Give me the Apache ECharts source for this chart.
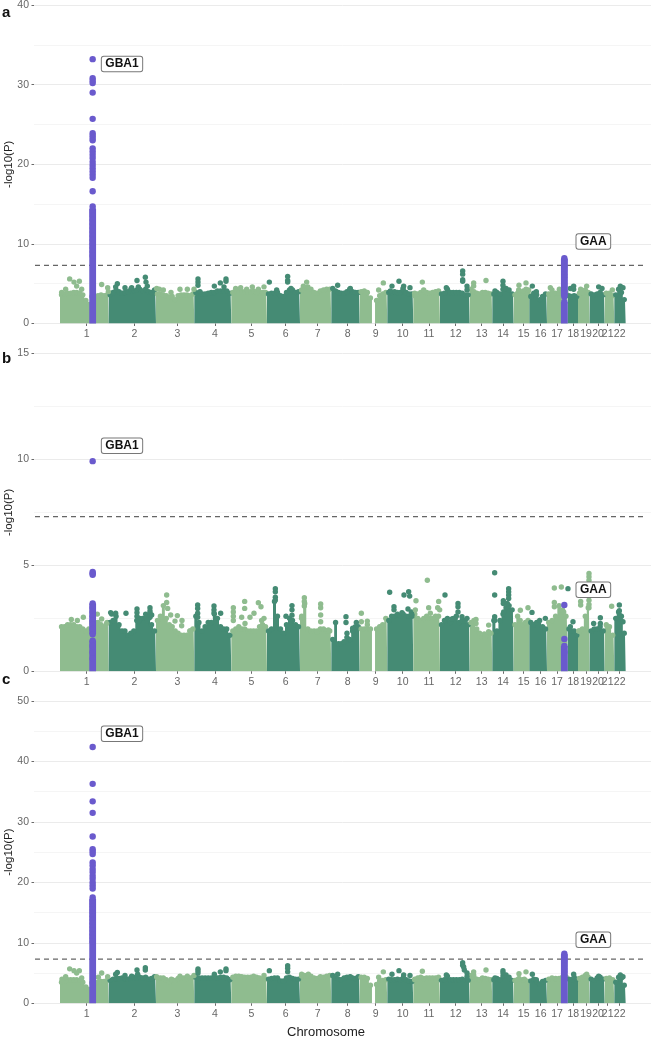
<!DOCTYPE html>
<html><head><meta charset="utf-8">
<style>html,body{margin:0;padding:0;background:#fff}#c{width:652px;height:1039px}</style>
<script src="https://cdn.jsdelivr.net/npm/echarts@6/dist/echarts.min.js"></script>
</head><body><div id="c"></div>
<script>
const chromLabels=['1','2','3','4','5','6','7','8','9','10','11','12','13','14','15','16','17','18','19','20','21','22'];
const chromTicks=[260,403,532,645,754,857,953,1043,1127,1208,1287,1367,1445,1509,1571,1622,1671,1720,1758,1794,1823,1859];
const chromEdges=[180,326,468,583,694,801,900,994,1079,1162,1240,1320,1409,1477,1541,1588,1641,1703,1734,1769,1814,1843,1877];
const threshold=7.3;
const gba1X=278, gaaX=1693;

const aTops=[
[3.6,3.7,3.8,3.8,3.9,3.9,3.8,3.6,2.9,2.4,3.4,3.4,3.5,3.6,3.5,3.6],
[3.6,3.9,4.2,4.0,3.8,3.9,4.0,4.3,4.1,4.2,4.3,4.1,4.3,4.0,3.9,4.2],
[3.7,3.7,3.6,3.5,3.3,3.4,3.0,3.5,3.6,3.6,3.6,3.5,3.7],
[3.9,3.8,3.7,3.7,3.8,3.9,3.9,4.1,4.1,4.1,4.1,3.8],
[3.9,4.1,4.1,4.0,4.0,4.0,4.0,4.1,3.9,3.9,3.9,3.9],
[3.7,3.8,3.8,3.9,3.5,3.4,3.9,4.2,4.2,3.9,4.0],
[4.2,4.5,4.6,4.3,3.9,3.8,4.1,4.2,4.3,4.3],
[4.4,4.1,3.9,3.8,3.8,4.0,4.3,4.0,3.9,3.9],
[4.0,4.1,3.9,3.2,0,2.9,3.5,3.7,3.9],
[3.9,3.9,4.0,3.9,3.9,4.2,3.9,3.7,3.7],
[3.5,3.7,3.9,4.0,3.9,3.8,3.9,4.0,4.1],
[3.7,3.8,4.3,3.9,3.9,3.9,3.9,3.8,3.6,3.6],
[4.3,4.0,3.8,3.7,3.9,3.9,3.8,3.7],
[3.7,3.9,3.7,4.3,4.4,4.2,3.7],
[3.6,3.8,3.8,3.8,3.9,3.8],
[3.4,3.8,3.6,3.0,3.4,3.7],
[3.7,3.7,3.8,3.8,3.9,3.9],
[3.5,3.4,3.5,3.4],
[3.8,3.9,4.2,3.9],
[3.7,3.6,3.7,3.9,3.6],
[3.8,3.8,3.5],
[3.6,4.3,3.9,3.0]];
const aPeaks=[[185,3.9],[197,4.3],[209,5.6],[222,5.2],[238,5.3],[230,4.7],[245,4.3],[305,4.9],[323,4.5],[325,4.0],
[352,5.0],[347,4.6],[375,4.5],[395,4.5],[411,5.4],[415,4.6],[436,5.8],[438,5.2],[442,4.7],[470,4.4],
[490,4.2],[513,3.9],[540,4.3],[562,4.3],[582,4.3],[478,4.3],
[594,5.6],[594,5.2],[594,4.8],[643,4.7],[661,5.1],[678,5.6],[678,5.3],[672,4.6],[600,4.0],
[707,4.4],[722,4.5],[740,4.3],[757,4.6],[775,4.3],[792,4.6],[808,5.2],
[863,5.9],[863,5.4],[863,5.2],[830,4.2],[873,4.4],[920,5.2],[910,4.7],
[1013,4.8],[1051,4.4],[1150,5.1],[1136,4.2],[1171,4.1],[1176,4.7],[1197,5.3],[1211,4.7],[1209,4.4],[1230,4.5],[1244,3.8],
[1267,5.2],[1271,4.2],[1388,6.6],[1388,6.2],[1388,5.5],[1388,5.3],[1401,4.7],[1401,4.2],[1339,4.5],
[1421,5.1],[1421,4.7],[1458,5.4],[1485,4.1],[1509,5.3],[1509,4.8],[1557,4.8],[1556,4.2],[1578,5.1],[1578,4.3],[1586,4.2],[1570,4.1],
[1597,4.7],[1609,4.0],[1651,4.5],[1656,4.2],[1678,4.3],[1711,4.4],[1721,4.7],[1721,4.3],[1742,4.3],[1760,4.7],[1796,4.6],[1806,4.4],[1837,4.2],[1861,4.7],[1869,4.5]];
const aGba1Dots=[33.2,30.8,30.5,30.2,29.0,25.7,23.9,23.6,23.3,23.0,22.0,21.6,21.2,20.8,20.3,19.9,19.5,19.1,18.7,18.3,16.6,14.7,14.3,13.9,13.5,13.0,12.5,12.0,11.5,11.0,10.5,10.0,9.5,9.0,8.5];
const aGba1Solid=[[0,14.4]];
const aGaaDots=[8.2,8.0,7.8,7.5,7.2,6.9,6.6,6.2,5.8,5.4,5.0,4.6,4.2,3.8,3.4,2.7];
const aGaaSolid=[[0,2.7],[3.4,8.1]];

const bTops=[
[2.1,2.1,2.2,2.2,2.2,2.1,2.1,2.0,1.9,2.0,2.3,2.3,2.3,2.2,2.1,2.3],
[2.3,2.4,2.6,2.2,1.9,1.9,1.7,1.8,1.9,2.4,2.5,2.5,2.7,2.5,2.2,1.9],
[2.4,2.6,3.1,2.5,2.2,2.1,1.9,1.8,1.7,1.7,1.7,1.9,2.0],
[2.6,2.3,1.9,2.1,2.3,2.3,2.7,2.5,2.1,2.0,2.0,1.7],
[1.9,2.0,2.1,2.0,2.0,1.9,1.9,1.9,1.9,2.1,2.2,2.1],
[1.9,2.0,3.3,2.6,2.0,1.8,2.2,2.5,2.4,2.2,2.1],
[2.5,3.2,2.0,1.9,1.9,1.9,2.0,2.0,1.9,1.9],
[1.5,2.3,1.3,1.3,1.4,1.6,1.5,1.9,2.1,2.1],
[2.0,2.0,2.0,2.0,0,2.0,2.1,2.2,2.5],
[2.4,2.6,2.6,2.7,2.6,2.7,2.6,2.6,2.6],
[2.7,2.5,2.4,2.5,2.6,2.5,2.5,2.6,2.6],
[2.2,2.4,2.5,2.3,2.5,2.6,2.3,2.4,2.4,2.2],
[2.3,2.4,2.0,1.8,1.6,1.6,1.7,1.8],
[2.4,1.9,2.4,2.7,3.0,3.1,2.9],
[2.2,2.6,2.4,2.2,2.3,2.4],
[2.3,2.2,2.3,2.4,2.1,2.0],
[2.3,2.4,2.6,3.1,2.9,2.6],
[2.0,1.9,1.9,1.7],
[1.9,2.0,2.6,3.0],
[1.9,2.0,2.0,2.1,1.9],
[2.2,2.1,1.7],
[2.5,2.8,2.6,1.8]];
const bPeaks=[[214,2.45],[232,2.4],[250,2.55],[292,2.7],[305,2.47],[332,2.77],[320,2.26],
[335,2.7],[347,2.74],[378,2.74],[411,2.94],[411,2.77],[411,2.6],[450,3.0],[450,2.85],[450,2.74],[450,2.55],[438,2.55],[455,2.66],[418,2.4],[442,2.4],
[500,3.6],[500,3.25],[503,2.97],[512,2.66],[532,2.63],[546,2.4],[545,2.15],[570,1.9],[485,2.55],[525,2.37],
[593,3.13],[593,2.97],[593,2.74],[593,2.55],[642,3.08],[642,2.9],[642,2.75],[662,2.74],[700,3.0],[700,2.8],[700,2.6],[700,2.4],
[734,3.3],[734,2.97],[775,3.24],[783,3.05],[762,2.74],[750,2.55],[725,2.55],[792,2.5],[735,2.26],[785,2.4],
[826,3.9],[826,3.75],[826,3.5],[826,3.36],[876,3.1],[876,2.9],[858,2.6],[876,2.65],
[913,3.47],[913,3.3],[913,3.08],[905,2.6],[962,3.18],[962,3.0],[962,2.66],[962,2.34],[950,1.87],[985,1.95],
[1038,2.58],[1038,2.3],[1084,2.74],[1084,2.34],[1069,2.3],[1058,2.03],[1041,1.8],[1102,2.37],[1102,2.2],
[1169,3.73],[1212,3.6],[1226,3.76],[1229,3.55],[1182,3.05],[1182,2.9],[1224,2.94],[1206,2.77],[1234,2.8],[1246,2.9],[1236,2.66],
[1282,4.3],[1248,3.33],[1286,3.0],[1316,3.3],[1313,3.0],[1319,2.9],[1291,2.74],[1335,3.6],
[1374,3.2],[1374,3.05],[1374,2.8],[1356,2.47],[1401,2.5],[1386,2.58],
[1428,2.45],[1428,2.26],[1466,2.18],[1466,1.87],[1453,1.76],
[1484,4.65],[1484,3.6],[1510,3.33],[1510,3.2],[1526,3.9],[1526,3.75],[1526,3.6],[1526,3.44],[1522,3.2],[1511,2.8],[1484,2.58],[1484,2.4],
[1561,2.88],[1584,3.0],[1596,2.78],[1636,2.5],
[1663,3.93],[1684,3.98],[1663,3.25],[1663,3.05],[1691,2.8],
[1711,2.1],[1719,2.34],[1736,1.9],
[1767,4.62],[1767,4.46],[1767,4.3],[1767,4.05],[1767,3.8],[1767,3.55],[1767,3.35],[1767,3.15],[1767,3.0],[1742,3.3],[1742,3.13],[1704,3.9],
[1801,2.53],[1781,2.26],[1801,2.26],[1835,3.07],[1858,3.13],[1858,2.86],[1858,2.66],[1869,2.34]];
const bGba1Dots=[9.92,4.69,4.62,4.56,3.2,3.0,2.8,2.6,2.4,2.2,2.0,1.75,1.45,1.2,0.9,0.6];
const bGba1Solid=[[0,1.45],[1.75,3.2]];
const bGaaDots=[3.13,1.53,1.2,0.9];
const bGaaSolid=[[0,1.2]];

const cTops=[
[3.5,3.7,3.9,3.9,3.9,3.9,3.8,3.5,2.7,2.3,3.4,3.4,3.5,3.6,3.6,3.8],
[3.8,4.0,4.1,4.1,4.2,4.1,4.0,4.2,4.3,4.2,4.3,4.2,4.3,4.0,4.1,4.4],
[4.2,4.2,4.0,3.9,3.5,3.9,3.8,4.1,4.2,4.2,4.1,4.2,4.3],
[4.3,4.2,4.2,4.2,4.2,4.2,4.3,4.2,4.3,4.3,4.2,3.9],
[4.3,4.5,4.5,4.4,4.3,4.3,4.3,4.5,4.3,4.2,4.0,4.0],
[4.0,4.1,4.2,4.2,3.7,3.7,4.2,4.3,4.1,4.0,4.0],
[4.5,4.6,4.6,4.5,4.2,4.1,4.4,4.3,4.5,4.6],
[4.6,4.2,4.0,3.9,4.2,4.3,4.3,4.2,4.1,4.4],
[4.3,4.3,4.1,3.0,0,3.1,3.7,3.8,3.9],
[4.0,3.9,3.9,4.0,3.9,4.2,3.9,3.7,3.6],
[4.0,4.2,4.3,4.1,4.2,4.2,4.2,4.2,4.3],
[3.8,3.9,4.5,3.9,3.9,3.9,3.9,4.0,3.8,3.8],
[4.6,4.3,4.0,3.9,4.2,4.1,4.0,3.9],
[3.9,4.1,3.9,4.5,4.7,4.3,3.8],
[3.8,3.9,3.8,3.9,3.8,3.6],
[3.7,4.0,3.6,3.2,3.6,3.8],
[4.0,4.0,4.1,4.1,4.3,4.4],
[4.0,3.9,4.3,4.0],
[4.1,4.3,4.6,4.3],
[4.0,3.8,4.2,4.3,4.0],
[4.1,4.2,3.9],
[3.5,4.3,4.2,3.0]];
const cPeaks=[[186,4.0],[197,4.4],[209,5.7],[222,5.4],[238,5.4],[230,5.0],[245,4.2],[305,5.0],[323,4.4],[295,4.3],
[352,5.1],[347,4.8],[375,4.6],[395,4.5],[411,5.5],[413,4.8],[436,5.9],[436,5.5],[470,4.4],
[490,4.2],[514,4.0],[540,4.5],[562,4.5],[582,4.6],
[594,5.7],[594,5.4],[594,5.0],[643,4.8],[661,5.2],[678,5.7],[678,5.4],[792,4.6],[808,5.4],
[863,6.2],[863,5.8],[863,5.2],[925,4.8],[905,4.8],
[1013,4.8],[1051,4.4],[1150,5.2],[1136,4.3],[1176,4.8],[1197,5.4],[1211,4.7],[1230,4.6],[1244,3.9],[1267,5.3],
[1388,6.7],[1388,6.3],[1391,6.0],[1393,5.5],[1401,5.0],[1401,4.4],[1339,4.7],[1421,5.2],[1421,4.7],[1458,5.5],
[1485,4.2],[1509,5.4],[1509,5.0],[1557,4.9],[1578,5.2],[1557,4.1],[1573,4.0],[1597,4.8],[1609,3.9],[1656,4.2],
[1721,4.8],[1760,4.8],[1796,4.5],[1861,4.7],[1869,4.4]];
const cGba1Dots=[42.4,36.3,33.4,31.5,27.6,25.5,25.1,24.7,23.3,22.8,22.2,21.7,21.1,20.6,20.0,19.5,19.0,17.5,17.0,16.5,16.0,15.5,15.0,14.4,13.8,13.2,12.6,12.0,11.4,10.8,10.2];
const cGba1Solid=[[0,17.3]];
const cGaaDots=[8.2,7.9,7.5,7.1,6.7,6.2,5.7,5.2];
const cGaaSolid=[[0,8.1]];

const LIGHT='#8FBC8F',DARK='#458B74',PURPLE='#6A5ACD',FONT='"Liberation Sans",Arial,sans-serif';
const chromColor=x=>{let i=0;while(i<21&&x>=chromEdges[i+1])i++;return i%2?DARK:LIGHT;};

const panels=[
 {top:5,height:318.5,max:40,interval:10,tops:aTops,peaks:aPeaks,gd:aGba1Dots,gs:aGba1Solid,ad:aGaaDots,as:aGaaSolid,lab:[[366,32.6,'GBA1'],[1780,10.3,'GAA']]},
 {top:353.5,height:317.8,max:15,interval:5,tops:bTops,peaks:bPeaks,gd:bGba1Dots,gs:bGba1Solid,ad:bGaaDots,as:bGaaSolid,lab:[[366,10.64,'GBA1'],[1780,3.85,'GAA']]},
 {top:701,height:302.3,max:50,interval:10,tops:cTops,peaks:cPeaks,gd:cGba1Dots,gs:cGba1Solid,ad:cGaaDots,as:cGaaSolid,lab:[[366,44.6,'GBA1'],[1780,10.5,'GAA']]}
];
const grid=[],xAxis=[],yAxis=[],series=[];
panels.forEach((p,k)=>{
 grid.push({left:34,width:617,top:p.top,height:p.height,containLabel:false,outerBoundsMode:'none'});
 xAxis.push({type:'value',gridIndex:k,min:102,max:1953,splitLine:{show:false},minorSplitLine:{show:false},
  axisLine:{show:false},
  axisTick:{show:true,length:2.5,customValues:chromTicks,lineStyle:{color:'#444',width:.8}},
  axisLabel:{show:true,customValues:chromTicks,margin:5,fontSize:10.5,fontFamily:FONT,color:'#666',hideOverlap:false,
    formatter:v=>chromLabels[chromTicks.indexOf(v)]||''}});
 yAxis.push({type:'value',gridIndex:k,min:0,max:p.max,interval:p.interval,
  axisLine:{show:false},axisTick:{show:true,length:2.5,lineStyle:{color:'#444',width:.8}},minorTick:{show:false,splitNumber:2},
  axisLabel:{margin:5,fontSize:10.5,fontFamily:FONT,color:'#666'},
  splitLine:{show:true,lineStyle:{color:'#EBEBEB',width:1}},
  minorSplitLine:{show:true,lineStyle:{color:'#F0F0F0',width:.7}},
  name:'-log10(P)',nameLocation:'middle',nameGap:19,nameMoveOverlap:false,nameTextStyle:{fontSize:11.5,fontFamily:FONT,color:'#222'}});
 const dots=[];
 p.tops.forEach((vals,i)=>{
  const s=chromEdges[i],e=chromEdges[i+1],w=(e-s)/vals.length,col=i%2?DARK:LIGHT;
  const pts=vals.map((v,j)=>[s+(j+.5)*w,v]);
  series.push({type:'line',xAxisIndex:k,yAxisIndex:k,step:'middle',symbol:'none',silent:true,animation:false,z:2,
   data:[[s,vals[0]],...pts,[e,vals[vals.length-1]]],lineStyle:{width:0},areaStyle:{color:col,opacity:1}});
  pts.forEach(q=>{if(q[1]>0)dots.push({value:q,itemStyle:{color:col,opacity:1}});});
 });
 p.peaks.forEach(q=>dots.push({value:q,itemStyle:{color:chromColor(q[0]),opacity:1}}));
 series.push({type:'scatter',xAxisIndex:k,yAxisIndex:k,data:dots,symbolSize:5.4,animation:false,z:3,silent:true});
 series.push({type:'line',xAxisIndex:k,yAxisIndex:k,data:[[105,threshold],[1941,threshold]],symbol:'none',animation:false,z:4,silent:true,
  lineStyle:{color:'#666',width:1.1,type:[5,4]}});
 [[gba1X,p.gs],[gaaX,p.as]].forEach(([x,segs])=>segs.forEach(sg=>series.push({type:'line',xAxisIndex:k,yAxisIndex:k,symbol:'none',animation:false,z:5,silent:true,
   data:[[x,sg[0]],[x,sg[1]]],lineStyle:{color:PURPLE,width:6.8,cap:'butt'}})));
 series.push({type:'scatter',xAxisIndex:k,yAxisIndex:k,symbolSize:6.4,animation:false,z:5,silent:true,itemStyle:{color:PURPLE,opacity:1},
  data:[...p.gd.map(v=>[gba1X,v]),...p.ad.map(v=>[gaaX,v])]});
 series.push({type:'scatter',xAxisIndex:k,yAxisIndex:k,symbolSize:1,animation:false,z:6,silent:true,itemStyle:{color:'rgba(0,0,0,0)',opacity:1},
  data:p.lab.map(l=>({value:[l[0],l[1]],name:l[2]})),
  label:{show:true,position:'inside',formatter:'{b}',fontFamily:FONT,fontWeight:'bold',fontSize:12,color:'#111',backgroundColor:'#fff',
   borderColor:'#777',borderWidth:1,borderRadius:2,padding:[1.5,3.5,1,3.5]}});
});
const chart=echarts.init(document.getElementById('c'),null,{renderer:'canvas'});
chart.setOption({animation:false,backgroundColor:'#fff',grid,xAxis,yAxis,series,
 graphic:[...[['a',13],['b',359],['c',680]].map(([t,y])=>({type:'text',left:2,top:y-8,style:{text:t,font:'bold 15px '+FONT,fill:'#111'}})),
  {type:'text',left:287,top:1026,style:{text:'Chromosome',font:'13px '+FONT,fill:'#222'}}]});
</script></body></html>
